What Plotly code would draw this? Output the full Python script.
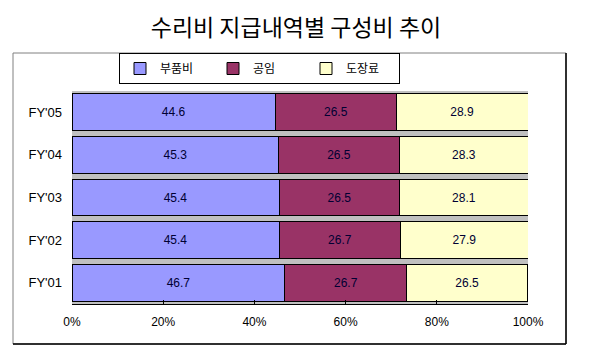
import plotly.graph_objects as go

categories = ["FY'01", "FY'02", "FY'03", "FY'04", "FY'05"]
parts = [46.7, 45.4, 45.4, 45.3, 44.6]
labor = [26.7, 26.7, 26.5, 26.5, 26.5]
paint = [26.5, 27.9, 28.1, 28.3, 28.9]
series_names = ["부품비", "공임", "도장료"]
colors = ["#9999FF", "#993366", "#FFFFCC"]
tick_vals = [0, 20, 40, 60, 80, 100]
tick_text = ["0%", "20%", "40%", "60%", "80%", "100%"]

fig = go.Figure()
for name, vals, col in zip(series_names, [parts, labor, paint], colors):
    fig.add_trace(go.Bar(
        y=categories, x=vals, name=name, orientation="h",
        marker=dict(color=col, line=dict(color="#000000", width=1)),
        text=[f"{v:.1f}" for v in vals], textposition="inside",
        insidetextanchor="middle", textangle=0,
        textfont=dict(family="Liberation Sans", size=12, color="#000033"),
        hoverinfo="skip",
    ))

# the page body adds an 8px offset; work in page pixels and convert
OFF = 8
W, H = 590 - OFF, 363 - OFF
ml, mr, mt, mb = 72 - OFF, 62, 91 - OFF, 59
PW, PH = W - ml - mr, H - mt - mb


def px(x):
    return (x - OFF - ml) / PW


def py(y):
    return (H - mb - (y - OFF)) / PH


fig.update_layout(
    width=W, height=H,
    barmode="stack", bargap=0.14,
    margin=dict(l=ml, r=mr, t=mt, b=mb, pad=0),
    paper_bgcolor="#FFFFFF", plot_bgcolor="#C0C0C0",
    font=dict(family="Liberation Sans", size=11, color="#000000"),
    title=dict(text="수리비 지급내역별 구성비 추이", x=(296 - OFF) / W, xanchor="center",
               y=1 - (28 - OFF) / H, yanchor="middle",
               font=dict(family="Noto Sans CJK KR", size=23, color="#000000")),
    showlegend=True,
    legend=dict(orientation="h", x=px(119), xanchor="left",
                y=py(53), yanchor="top",
                bordercolor="#000000", borderwidth=1, bgcolor="#FFFFFF",
                font=dict(family="Noto Sans CJK KR", size=12),
                entrywidth=48, entrywidthmode="pixels", traceorder="normal"),
    xaxis=dict(range=[0, 100], tickvals=tick_vals, ticktext=tick_text,
               showgrid=False, zeroline=False, showline=True,
               linecolor="#000000", linewidth=1, ticks="inside", ticklen=4,
               tickcolor="#000000", fixedrange=True, ticklabelstandoff=7,
               tickfont=dict(family="Liberation Sans", size=12, color="#000000")),
    yaxis=dict(showgrid=False, zeroline=False, showline=False, ticks="",
               ticklabelstandoff=9, fixedrange=True,
               tickfont=dict(family="Liberation Sans", size=13, color="#000000")),
)

# outer chart frame
fig.add_shape(type="rect", xref="paper", yref="paper",
              x0=px(13), x1=px(566), y0=py(344), y1=py(53),
              line=dict(color="#808080", width=1), layer="below")
fig.add_shape(type="line", xref="paper", yref="paper",
              x0=px(566), x1=px(566), y0=py(344), y1=py(53),
              line=dict(color="#000000", width=1.5))
fig.add_shape(type="line", xref="paper", yref="paper",
              x0=px(13), x1=px(566), y0=py(344), y1=py(344),
              line=dict(color="#000000", width=1.5))

fig.write_html("out.html")
